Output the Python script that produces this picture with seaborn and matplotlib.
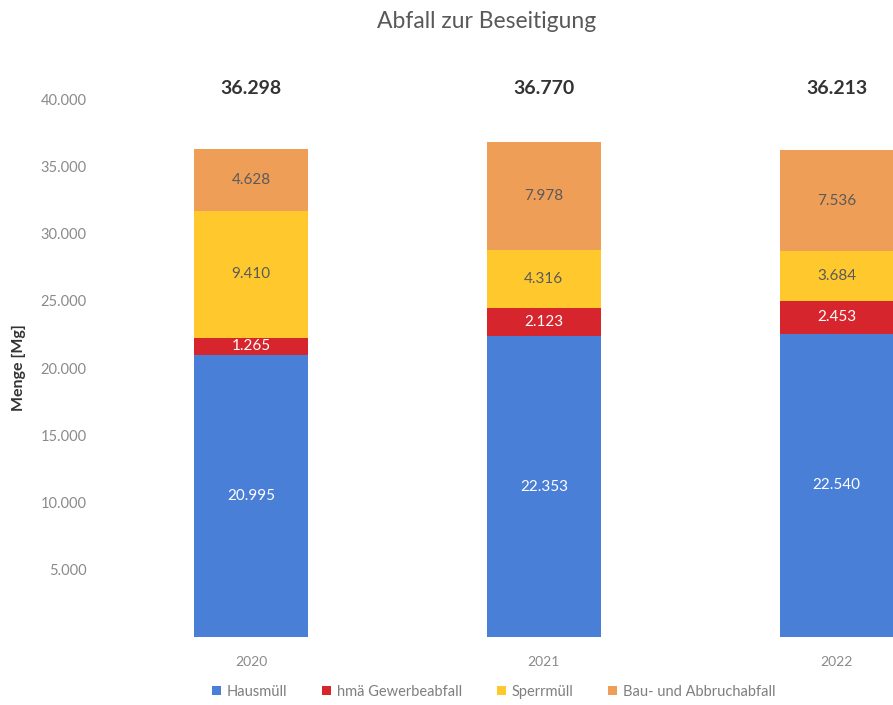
import matplotlib
matplotlib.use("Agg")
import matplotlib.pyplot as plt
from matplotlib.patches import Patch
import numpy as np
import pandas as pd
import seaborn as sns

years = ["2020", "2021", "2022"]
series_names = ["Hausmüll", "hmä Gewerbeabfall", "Sperrmüll", "Bau- und Abbruchabfall"]
hausmuell = [20995, 22353, 22540]
gewerbe = [1265, 2123, 2453]
sperrmuell = [9410, 4316, 3684]
bauabfall = [4628, 7978, 7536]
y_ticks = [5000, 10000, 15000, 20000, 25000, 30000, 35000, 40000]

colors = ["#4A7FD8", "#D6252D", "#FFC92E", "#EE9E57"]
label_colors = ["white", "white", "#5A5A5A", "#5A5A5A"]

sns.set_style("white")
plt.rcParams["font.family"] = ["Lato", "DejaVu Sans"]

series = [hausmuell, gewerbe, sperrmuell, bauabfall]
cum = np.cumsum(np.array(series), axis=0)
totals = cum[-1]

fig = plt.figure(figsize=(8.93, 7.05), dpi=100)
ax = fig.add_axes([0.117, 0.0965, 0.984, 0.763])

# Stack by layering cumulative sums, tallest first
for i in range(len(series) - 1, -1, -1):
    df = pd.DataFrame({"Jahr": years, "Menge": cum[i]})
    sns.barplot(data=df, x="Jahr", y="Menge", color=colors[i], width=0.39,
                saturation=1, ax=ax, linewidth=0, edgecolor="none",
                zorder=2 + (len(series) - i))

# Segment labels
for i, vals in enumerate(series):
    base = cum[i] - np.array(vals)
    for j, v in enumerate(vals):
        ax.text(j, base[j] + v / 2, f"{v:,}".replace(",", "."), ha="center", va="center",
                fontsize=11, color=label_colors[i], zorder=10)

# Totals above bars
for j, t in enumerate(totals):
    ax.text(j, 40800, f"{t:,}".replace(",", "."), ha="center", va="center",
            fontsize=14, fontweight="bold", color="#333333", clip_on=False)

ax.set_xlim(-0.5, 2.5)
ax.set_ylim(0, 40000)
ax.set_yticks(y_ticks)
ax.set_yticklabels([f"{v:,}".replace(",", ".") for v in y_ticks])
ax.tick_params(axis="both", length=0, labelsize=10.5, labelcolor="#8A8A8A")
ax.tick_params(axis="x", pad=14, labelsize=10)
ax.tick_params(axis="y", pad=13)
ax.set_xlabel("")
ax.set_ylabel("")
for s in ax.spines.values():
    s.set_visible(False)
ax.grid(False)

fig.text(0.021, (705 - 368) / 705, "Menge [Mg]", rotation=90, ha="center", va="center",
         fontsize=11.5, fontweight="bold", color="#333333")
fig.text(0.545, (705 - 22) / 705, "Abfall zur Beseitigung", ha="center", va="center",
         fontsize=16.5, color="#595959")

handles = [Patch(facecolor=c, edgecolor="none") for c in colors]
fig.legend(handles, series_names, loc="center", bbox_to_anchor=(0.553, (705 - 692) / 705),
           ncol=4, frameon=False, fontsize=10.5, handlelength=0.6, handleheight=0.6,
           handletextpad=0.4, columnspacing=2.4, labelcolor="#7F7F7F")

fig.savefig("out.png", dpi=100)
